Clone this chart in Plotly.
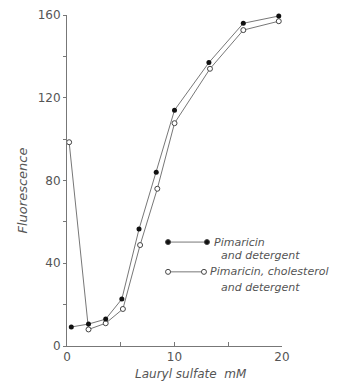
import plotly.graph_objects as go

# Data
x_pim = [0.4, 2.0, 3.6, 5.1, 6.7, 8.3, 10.0, 13.2, 16.4, 19.7]
y_pim = [9.2, 10.6, 13, 22.7, 56.5, 84, 114, 137, 156, 159.5]
x_chol = [0.2, 2.0, 3.6, 5.2, 6.8, 8.4, 10.0, 13.3, 16.4, 19.7]
y_chol = [98.5, 8, 11, 17.9, 48.8, 76, 107.7, 134, 152.7, 157]

x_ticks = [0, 5, 10, 15, 20]
x_tick_labels = ["0", "", "10", "", "20"]
y_ticks = [0, 20, 40, 60, 80, 100, 120, 140, 160]
y_tick_labels = ["0", "", "40", "", "80", "", "120", "", "160"]

FONT = "DejaVu Sans"
GRAY = "#555555"
LINE = "#777777"

fig = go.Figure()
fig.add_trace(go.Scatter(x=x_chol, y=y_chol, mode="lines+markers",
                         line=dict(color=LINE, width=1),
                         marker=dict(symbol="circle", size=5, color="white",
                                     line=dict(color="#444", width=1)),
                         cliponaxis=False, showlegend=False))
fig.add_trace(go.Scatter(x=x_pim, y=y_pim, mode="lines+markers",
                         line=dict(color=LINE, width=1),
                         marker=dict(symbol="circle", size=5, color="#111"),
                         cliponaxis=False, showlegend=False))

fig.update_layout(
    width=348, height=375,
    margin=dict(l=59, r=74, t=7, b=37),
    paper_bgcolor="white", plot_bgcolor="white",
    font=dict(family=FONT, color=GRAY, size=12),
    xaxis=dict(range=[0, 20], tickvals=x_ticks, ticktext=x_tick_labels,
               showgrid=False, zeroline=False, showline=True, linecolor=LINE,
               linewidth=1, ticks="inside", ticklen=4, tickcolor=LINE,
               automargin=False, tickfont=dict(size=12, color=GRAY)),
    yaxis=dict(range=[0, 160], tickvals=y_ticks, ticktext=y_tick_labels,
               showgrid=False, zeroline=False, showline=True, linecolor=LINE,
               linewidth=1, ticks="outside", ticklen=3, tickcolor=LINE,
               automargin=False, tickfont=dict(size=12, color=GRAY)),
)

# Axis titles
fig.add_annotation(text="<i>Fluorescence</i>", xref="paper", yref="paper",
                   x=-0.209, y=0.47, xanchor="center", yanchor="middle",
                   textangle=-90, showarrow=False,
                   font=dict(size=13, color=GRAY))
fig.add_annotation(text="<i>Lauryl sulfate  mM</i>", xref="paper", yref="paper",
                   x=0.577, y=0, yshift=-28, xanchor="center", yanchor="middle",
                   showarrow=False, font=dict(size=12, color=GRAY))

# Legend drawn inside plot
def legend_sample(y, x0, x1, filled):
    fig.add_shape(type="line", xref="paper", yref="paper", x0=x0, x1=x1, y0=y, y1=y,
                  line=dict(color=LINE, width=1))
    for xc in (x0, x1):
        fig.add_shape(type="circle", xref="paper", yref="paper",
                      xsizemode="pixel", ysizemode="pixel",
                      xanchor=xc, yanchor=y, x0=-2.5, x1=2.5, y0=-2.5, y1=2.5,
                      fillcolor="#111" if filled else "white",
                      line=dict(color="#444", width=1))

legend_sample(0.314, 0.47, 0.651, True)
legend_sample(0.224, 0.47, 0.637, False)

for txt, x, y in [("Pimaricin", 0.675, 0.314), ("and detergent", 0.705, 0.272),
                  ("Pimaricin, cholesterol", 0.655, 0.224), ("and detergent", 0.705, 0.178)]:
    fig.add_annotation(text=f"<i>{txt}</i>", xref="paper", yref="paper", x=x, y=y,
                       xanchor="left", yanchor="middle", showarrow=False,
                       font=dict(size=11, color=GRAY))

fig.write_html("out.html")
